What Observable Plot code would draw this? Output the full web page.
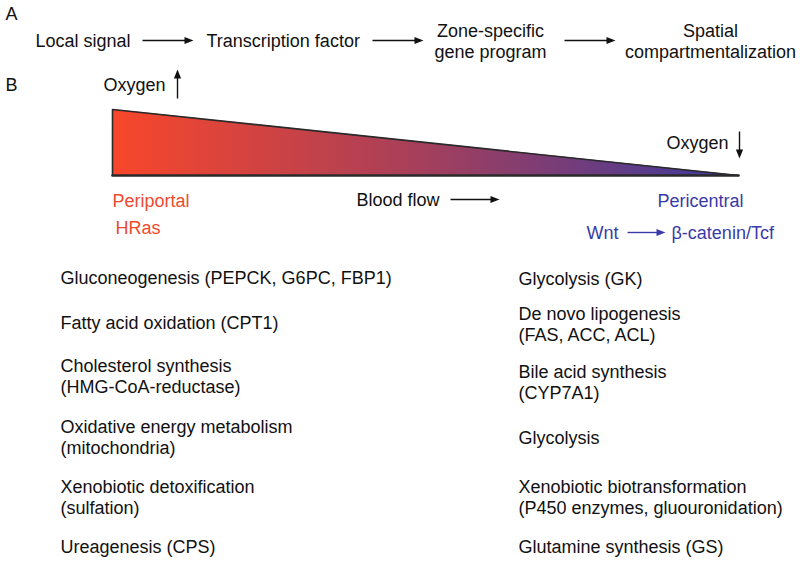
<!DOCTYPE html>
<html>
<head>
<meta charset="utf-8">
<script src="https://cdn.jsdelivr.net/npm/d3@7"></script>
<script src="https://cdn.jsdelivr.net/npm/@observablehq/plot@0.6"></script>
<style>
  html, body { margin: 0; padding: 0; background: #fff; }
  #chart { width: 800px; height: 563px; }
</style>
</head>
<body>
<div id="chart"></div>
<script>
// ---- content ----
const panelLetters = ["A", "B"];
const pathwaySteps = ["Local signal", "Transcription factor", "Zone-specific\ngene program", "Spatial\ncompartmentalization"];
const zoneNames = ["Periportal", "Pericentral"];
const periportalSignal = ["HRas"];
const pericentralSignal = ["Wnt", "β-catenin/Tcf"];
const flowLabel = ["Blood flow"];
const oxygenLabel = ["Oxygen", "Oxygen"];
const periportalFunctions = [
  "Gluconeogenesis (PEPCK, G6PC, FBP1)",
  "Fatty acid oxidation (CPT1)",
  "Cholesterol synthesis\n(HMG-CoA-reductase)",
  "Oxidative energy metabolism\n(mitochondria)",
  "Xenobiotic detoxification\n(sulfation)",
  "Ureagenesis (CPS)"
];
const pericentralFunctions = [
  "Glycolysis (GK)",
  "De novo lipogenesis\n(FAS, ACC, ACL)",
  "Bile acid synthesis\n(CYP7A1)",
  "Glycolysis",
  "Xenobiotic biotransformation\n(P450 enzymes, gluouronidation)",
  "Glutamine synthesis (GS)"
];
// oxygen level along the sinusoid (relative height of the wedge), periportal -> pericentral
const oxygenLevel = [1, 0];

// ---- layout (diagram coordinates, px-like units) ----
const layout = {
  letterX: 5, letterY: [13, 84],
  stepX: [35, 206, 490, 710], stepY: 40,
  wedgeX: [112, 738], wedgeBase: 175, wedgeTop: 109,
  listY_left: [276.5, 322, 375.5, 436.5, 496.5, 546],
  listY_right: [278, 323.5, 381.5, 437, 496.5, 546],
  listX: [60, 518]
};

const red = "#EF4A2E", blue = "#3A3AAA", ink = "#111";
const font = "'Liberation Sans', Arial, Helvetica, sans-serif";

// arrows: from (x1,y1) to tip (x2,y2)
const arrows = [
  {x1: 142, y1: 40, x2: 193, y2: 40, c: ink},
  {x1: 372, y1: 40, x2: 423, y2: 40, c: ink},
  {x1: 564, y1: 40, x2: 615, y2: 40, c: ink},
  {x1: 177, y1: 98, x2: 177, y2: 69, c: ink},
  {x1: 739, y1: 131, x2: 739, y2: 158, c: ink},
  {x1: 450, y1: 199, x2: 499, y2: 199, c: ink},
  {x1: 627, y1: 232, x2: 665, y2: 232, c: blue}
];
const headLen = 9, headHalfW = 3.6;
const shafts = arrows.map(a => {
  const dx = a.x2 - a.x1, dy = a.y2 - a.y1, L = Math.hypot(dx, dy);
  return {...a, x2: a.x2 - dx / L * (headLen - 2), y2: a.y2 - dy / L * (headLen - 2)};
});
const heads = arrows.map(a => ({...a, rot: Math.atan2(a.x2 - a.x1, -(a.y2 - a.y1)) * 180 / Math.PI}));
const arrowHead = {
  draw(context) {
    context.moveTo(0, 0);
    context.lineTo(headHalfW, headLen);
    context.lineTo(-headHalfW, headLen);
    context.closePath();
  }
};

const stepsStart = pathwaySteps.slice(0, 2).map((t, i) => ({t, x: layout.stepX[i], y: layout.stepY}));
const stepsMiddle = pathwaySteps.slice(2).map((t, i) => ({t, x: layout.stepX[i + 2], y: layout.stepY}));

const wedge = oxygenLevel.map((v, i) => ({
  x: layout.wedgeX[i],
  y1: layout.wedgeBase,
  y2: layout.wedgeBase - v * (layout.wedgeBase - layout.wedgeTop)
}));
const wedgeOutline = [
  {x: layout.wedgeX[0], y: layout.wedgeBase},
  ...wedge.map(d => ({x: d.x, y: d.y2}))
];

const leftList = periportalFunctions.map((t, i) => ({t, x: layout.listX[0], y: layout.listY_left[i]}));
const rightList = pericentralFunctions.map((t, i) => ({t, x: layout.listX[1], y: layout.listY_right[i]}));

const textOpts = {fontSize: 18, fontFamily: font, lineHeight: 1.17};

const chart = Plot.plot({
  width: 800,
  height: 563,
  margin: 0,
  x: {domain: [0, 800], range: [0, 800], axis: null},
  y: {domain: [0, 563], range: [0, 563], axis: null},
  style: {fontFamily: font, background: "#fff", overflow: "visible"},
  marks: [
    // panel letters
    Plot.text(panelLetters, {x: layout.letterX, y: (d, i) => layout.letterY[i], text: d => d, textAnchor: "start", fill: ink, ...textOpts}),
    // panel A: pathway
    Plot.text(stepsStart, {x: "x", y: "y", text: "t", textAnchor: "start", fill: ink, ...textOpts}),
    Plot.text(stepsMiddle, {x: "x", y: "y", text: "t", textAnchor: "middle", fill: ink, ...textOpts}),
    // panel B: wedge
    Plot.areaY(wedge, {x: "x", y1: "y1", y2: "y2", fill: "url(#zoneGradient)"}),
    Plot.line(wedgeOutline, {x: "x", y: "y", stroke: "#2a2a2a", strokeWidth: 1.6}),
    Plot.line(wedge, {x: "x", y: "y1", stroke: "#2a2a2a", strokeWidth: 2.6}),
    // oxygen labels
    Plot.text([oxygenLabel[0]], {x: 103, y: 84, text: d => d, textAnchor: "start", fill: ink, ...textOpts}),
    Plot.text([oxygenLabel[1]], {x: 666, y: 142, text: d => d, textAnchor: "start", fill: ink, ...textOpts}),
    // zone labels
    Plot.text([zoneNames[0]], {x: 112, y: 200, text: d => d, textAnchor: "start", fill: red, ...textOpts}),
    Plot.text([zoneNames[1]], {x: 743, y: 200, text: d => d, textAnchor: "end", fill: blue, ...textOpts}),
    Plot.text(flowLabel, {x: 356, y: 199, text: d => d, textAnchor: "start", fill: ink, ...textOpts}),
    Plot.text(periportalSignal, {x: 115, y: 227, text: d => d, textAnchor: "start", fill: red, ...textOpts}),
    Plot.text([pericentralSignal[0]], {x: 586, y: 232, text: d => d, textAnchor: "start", fill: blue, ...textOpts}),
    Plot.text([pericentralSignal[1]], {x: 671, y: 232, text: d => d, textAnchor: "start", fill: blue, ...textOpts}),
    // arrows (shaft + filled head)
    Plot.link(shafts, {x1: "x1", y1: "y1", x2: "x2", y2: "y2", stroke: "c", strokeWidth: 1.4}),
    Plot.dot(heads, {x: "x2", y: "y2", rotate: "rot", symbol: arrowHead, fill: "c", stroke: "none", r: 4}),
    // function lists
    Plot.text(leftList, {x: "x", y: "y", text: "t", textAnchor: "start", fill: ink, ...textOpts}),
    Plot.text(rightList, {x: "x", y: "y", text: "t", textAnchor: "start", fill: ink, ...textOpts})
  ]
});

// gradient definition used by the wedge fill
const defs = d3.select(chart).insert("defs", ":first-child");
const grad = defs.append("linearGradient")
  .attr("id", "zoneGradient")
  .attr("x1", "0").attr("x2", "1").attr("y1", "0").attr("y2", "0");
[["0%", "#F9472A"], ["50%", "#A43F5C"], ["100%", "#3B3A9E"]].forEach(([o, c]) =>
  grad.append("stop").attr("offset", o).attr("stop-color", c));

document.getElementById("chart").appendChild(chart);
</script>
</body>
</html>
